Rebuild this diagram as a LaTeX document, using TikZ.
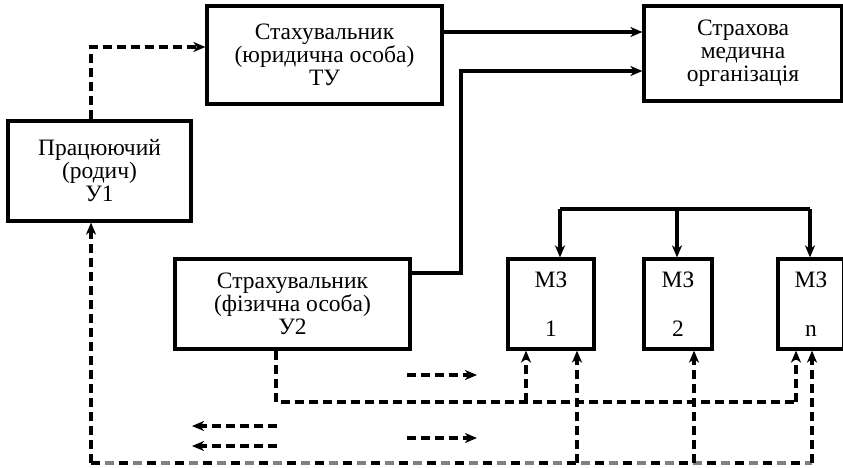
\documentclass[tikz,border=0pt]{standalone}
\usepackage{fontspec}
\setmainfont{Liberation Serif}
\usetikzlibrary{arrows.meta}

\begin{document}
\begin{tikzpicture}[x=1pt, y=-1pt,
  blk/.style={draw, line width=3.2pt, inner sep=0pt, align=center, font=\fontsize{23.5}{23}\selectfont},
  flow/.style={line width=3.2pt, -{Stealth[length=12pt, width=10pt, inset=3.5pt]}},
  dline/.style={line width=3.2pt, dash pattern=on 9pt off 5pt},
  dflow/.style={flow, dash pattern=on 9pt off 5pt}]
  \useasboundingbox (0,0) rectangle (843,468);
  % blocks
  \node[blk, minimum width=235pt, minimum height=98pt] (TU) at (324.5,55) {Стахувальник\\(юридична особа)\\ТУ};
  \node[blk, minimum width=198pt, minimum height=95pt] (SMO) at (743,53.5) {Страхова\\медична\\організація};
  \node[blk, minimum width=183pt, minimum height=100pt] (U1) at (99.5,171) {Працюючий\\(родич)\\У1};
  \node[blk, minimum width=235pt, minimum height=90pt] (U2) at (292.5,304) {Страхувальник\\(фізична особа)\\У2};
  \node[blk, minimum width=86pt, minimum height=90pt] (MZ1) at (551,304) {МЗ\\[26pt]1};
  \node[blk, minimum width=68pt, minimum height=90pt] (MZ2) at (678,304) {МЗ\\[26pt]2};
  \node[blk, minimum width=66pt, minimum height=90pt] (MZn) at (811,304) {МЗ\\[26pt]n};
  % top links
  \coordinate (p1) at (91,47);
  \coordinate (p2) at (0,32);
  \coordinate (p3) at (461,273);
  \coordinate (p4) at (461,71);
  \draw[dflow] (U1.north -| p1) |- (TU.west |- p1);
  \draw[flow] (TU.east |- p2) -- (SMO.west |- p2);
  \draw[flow] (U2.east |- p3) -- (p3) -- (p4) -- (SMO.west |- p4);
  % bus to MZ
  \coordinate (b1) at (560,209);
  \coordinate (b2) at (677,209);
  \coordinate (bn) at (810,209);
  \draw[line width=3.2pt] (b1) -- (bn);
  \foreach \m/\b in {MZ1/b1, MZ2/b2, MZn/bn}
    \draw[flow] (\b) -- (\m.north -| \b);
  % dashed from U2
  \coordinate (d0) at (276,402);
  \coordinate (d1) at (526,402);
  \coordinate (dn) at (796,402);
  \draw[dline] (U2.south -| d0) -- (d0) -- (dn);
  \draw[dflow] (d1) -- (MZ1.south -| d1);
  \draw[dflow] (dn) -- (MZn.south -| dn);
  % bottom line
  \coordinate (e0) at (91,463);
  \coordinate (e1) at (577,463);
  \coordinate (e2) at (694,463);
  \coordinate (en) at (812,463);
  \draw[line width=3.2pt, dash pattern=on 9pt off 19pt] (e0) -- (en);
  \draw[line width=3.2pt, gray, dash pattern=on 9pt off 19pt, dash phase=14pt] (e0) -- (en);
  \draw[dflow] (e0) -- (U1.south -| e0);
  \foreach \m/\e in {MZ1/e1, MZ2/e2, MZn/en}
    \draw[dflow] (\e) -- (\m.south -| \e);
  % loose arrows
  \coordinate (r1a) at (407,375);
  \coordinate (r1b) at (477,375);
  \coordinate (r2a) at (407,438);
  \coordinate (r2b) at (477,438);
  \coordinate (l1a) at (277,426);
  \coordinate (l1b) at (192,426);
  \coordinate (l2a) at (277,446);
  \coordinate (l2b) at (192,446);
  \draw[dflow] (r1a) -- (r1b);
  \draw[dflow] (r2a) -- (r2b);
  \draw[dflow] (l1a) -- (l1b);
  \draw[dflow] (l2a) -- (l2b);
\end{tikzpicture}
\end{document}
